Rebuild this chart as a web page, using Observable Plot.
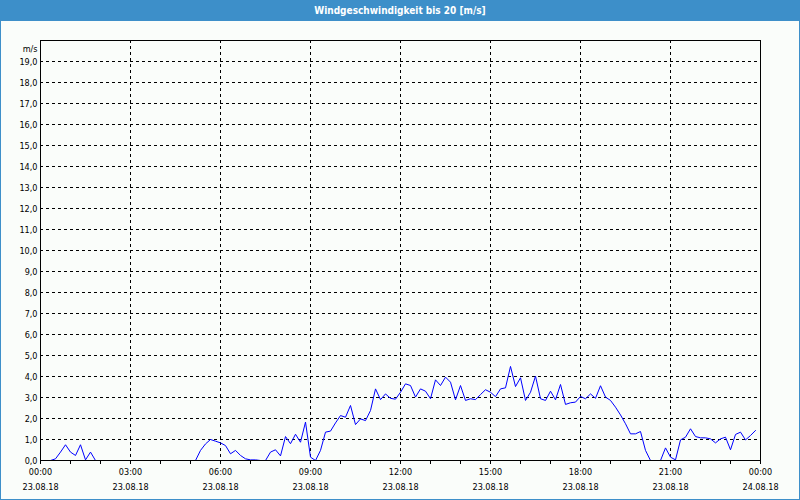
<!DOCTYPE html>
<html>
<head>
<meta charset="utf-8">
<script src="https://cdn.jsdelivr.net/npm/d3@7"></script>
<script src="https://cdn.jsdelivr.net/npm/@observablehq/plot@0.6"></script>
<style>
  html, body { margin: 0; padding: 0; background: #fafdfa; }
  #wrap { position: relative; width: 800px; height: 500px; overflow: hidden; background: #fafdfa; }
  #title { height: 21px; line-height: 21px; background: #3d8fc9; color: #ffffff; text-align: center;
           font-family: "DejaVu Sans Condensed", "DejaVu Sans", sans-serif; font-size: 10px; font-weight: bold; }
  #border { position: absolute; left: 0; top: 0; width: 800px; height: 500px; box-sizing: border-box;
            border: 1px solid #3d8fc9; pointer-events: none; }
  svg { display: block; }
</style>
</head>
<body>
<div id="wrap">
  <div id="title">Windgeschwindigkeit bis 20 [m/s]</div>
  <div id="chart"></div>
  <div id="border"></div>
</div>
<script>
// Time grid (hours x 10-minute slots) and wind speed in m/s
const hours = ["00","01","02","03","04","05","06","07","08","09","10","11",
               "12","13","14","15","16","17","18","19","20","21","22","23"];
const minutes = ["00","10","20","30","40","50"];
const speed = [
  [0, 0, 0, 0.08, 0.40, 0.75],          // 00
  [0.40, 0.24, 0.75, 0.03, 0.40, 0],    // 01
  [0, 0, 0, 0, 0, 0],                   // 02
  [0, 0, 0, 0, 0, 0],                   // 03
  [0, 0, 0, 0, 0, 0],                   // 04
  [0, 0, 0.48, 0.79, 1.00, 0.92],       // 05
  [0.84, 0.71, 0.32, 0.48, 0.24, 0.08], // 06
  [0.03, 0.03, 0, 0, 0.40, 0.51],       // 07
  [0.22, 1.14, 0.80, 1.25, 0.87, 1.83], // 08
  [0.16, 0, 0.48, 1.35, 1.40, 1.79],    // 09
  [2.14, 2.06, 2.62, 1.71, 1.98, 1.90], // 10
  [2.38, 3.41, 2.90, 3.17, 2.96, 2.92], // 11
  [3.25, 3.65, 3.57, 3.02, 3.41, 3.30], // 12
  [2.94, 3.84, 3.57, 3.97, 3.73, 2.89], // 13
  [3.57, 2.86, 2.94, 2.90, 3.14, 3.37], // 14
  [3.25, 3.04, 3.41, 3.46, 4.48, 3.52], // 15
  [3.94, 2.86, 3.25, 4.02, 2.94, 2.86], // 16
  [3.30, 2.89, 3.62, 2.67, 2.75, 2.78], // 17
  [3.05, 2.94, 3.17, 2.96, 3.56, 3.02], // 18
  [2.86, 2.54, 2.17, 1.75, 1.27, 1.27], // 19
  [1.38, 0.48, 0, 0, 0, 0.60],          // 20
  [0.16, 0.03, 0.98, 1.11, 1.51, 1.14], // 21
  [1.08, 1.08, 1.03, 0.84, 1.03, 1.11], // 22
  [0.51, 1.24, 1.35, 0.98, 1.19, 1.43]  // 23
];

// Axis ticks and labels
const yTickValues = [0,1,2,3,4,5,6,7,8,9,10,11,12,13,14,15,16,17,18,19];
const yTickLabels = ["0,0","1,0","2,0","3,0","4,0","5,0","6,0","7,0","8,0","9,0","10,0",
                     "11,0","12,0","13,0","14,0","15,0","16,0","17,0","18,0","19,0"];
const yGridValues = [1,2,3,4,5,6,7,8,9,10,11,12,13,14,15,16,17,18,19];
const yUnit = "m/s";
const xMinorHours = [0,1,2,3,4,5,6,7,8,9,10,11,12,13,14,15,16,17,18,19,20,21,22,23,24];
const xGridHours = [3,6,9,12,15,18,21];
const xLabelHours = [0,3,6,9,12,15,18,21,24];
const xTimeLabels = ["00:00","03:00","06:00","09:00","12:00","15:00","18:00","21:00","00:00"];
const xDateLabels = ["23.08.18","23.08.18","23.08.18","23.08.18","23.08.18","23.08.18","23.08.18","23.08.18","24.08.18"];

const data = hours.flatMap((h, i) => minutes.map((m, j) => ({t: +h + +m / 60, v: speed[i][j]})));

const chart = Plot.plot({
  width: 800,
  height: 479,
  marginTop: 19,
  marginBottom: 40,
  marginLeft: 40,
  marginRight: 40,
  x: {domain: [0, 24]},
  y: {domain: [0, 20], axis: null},
  style: {background: "transparent", fontFamily: "'DejaVu Sans Condensed', 'DejaVu Sans', sans-serif", fontSize: "9px", color: "#000"},
  marks: [
    Plot.ruleY(yGridValues, {y: d => d, stroke: "#000", strokeDasharray: "3,3", strokeOpacity: 1}),
    Plot.ruleX(xGridHours, {x: d => d, stroke: "#000", strokeDasharray: "3,3", strokeOpacity: 1}),
    Plot.line(data, {x: "t", y: "v", stroke: "#0000ff", strokeWidth: 1}),
    Plot.frame({stroke: "#000", strokeOpacity: 1}),
    Plot.axisX(xMinorHours, {anchor: "bottom", tickSize: 4, tickFormat: () => "", label: null, stroke: "#000", strokeOpacity: 1}),
    Plot.text(xLabelHours, {x: d => d, frameAnchor: "bottom", dy: 14, text: (d, i) => xTimeLabels[i], fill: "#000"}),
    Plot.text(xLabelHours, {x: d => d, frameAnchor: "bottom", dy: 29, text: (d, i) => xDateLabels[i], fill: "#000"}),
    Plot.text(yTickValues, {y: d => d, frameAnchor: "left", dx: -3, dy: 1, textAnchor: "end", text: (d, i) => yTickLabels[i], fill: "#000"}),
    Plot.text([yUnit], {frameAnchor: "top-left", dx: -3, dy: 5, textAnchor: "end", text: d => d, fill: "#000"})
  ]
});
document.getElementById("chart").appendChild(chart);
</script>
</body>
</html>
